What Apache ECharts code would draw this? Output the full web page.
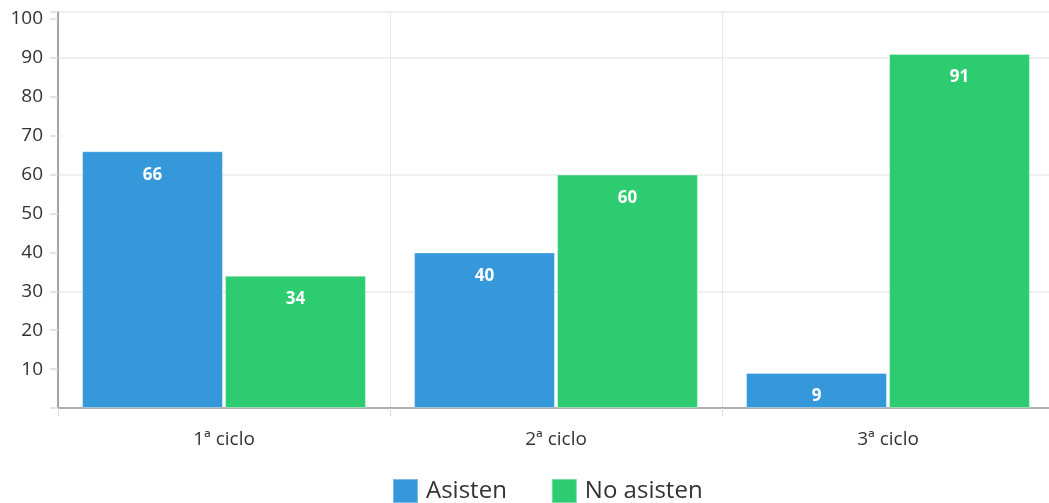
<!DOCTYPE html>
<html>
<head>
<meta charset="utf-8">
<script src="https://cdn.jsdelivr.net/npm/echarts@6/dist/echarts.min.js"></script>
<style>
html,body{margin:0;padding:0;background:#fff;overflow:hidden;}
#chart{width:1056px;height:503px;}
</style>
</head>
<body>
<div id="chart"></div>
<script>
const categories = ['1ª ciclo', '2ª ciclo', '3ª ciclo'];
const asisten = [66, 40, 9];
const noAsisten = [34, 60, 91];
const seriesNames = ['Asisten', 'No asisten'];

const chart = echarts.init(document.getElementById('chart'));
const font = '"Open Sans", "Noto Sans", sans-serif';
const labelStyle = {
  show: true,
  position: 'insideTop',
  distance: 15,
  color: '#fff',
  fontWeight: 'bold',
  fontSize: 17,
  fontFamily: font
};
chart.setOption({
  animation: false,
  textStyle: { fontFamily: font },
  grid: { left: 58, right: 2, top: 12, bottom: 95, containLabel: false },
  legend: {
    data: seriesNames,
    top: 478,
    left: 392,
    padding: 0,
    icon: 'rect',
    itemWidth: 25,
    itemHeight: 24,
    itemGap: 44,
    textStyle: { fontSize: 24, color: '#333', fontFamily: font, padding: [0, 0, 0, 3] }
  },
  xAxis: {
    type: 'category',
    data: categories,
    axisLine: { lineStyle: { color: '#999', width: 1.5 } },
    axisTick: { show: true, length: 8, lineStyle: { color: '#ddd' } },
    splitLine: { show: true, lineStyle: { color: '#e6e6e6' } },
    axisLabel: { color: '#333', fontSize: 19, margin: 22, fontFamily: font }
  },
  yAxis: [{
    type: 'value',
    min: 0,
    max: 101.8,
    interval: 10,
    axisLine: { show: true, lineStyle: { color: '#888', width: 1.5 } },
    axisTick: { show: true, length: 8, lineStyle: { color: '#ddd', width: 1.5 } },
    splitLine: { show: false },
    axisLabel: {
      color: '#333', fontSize: 19, margin: 15, fontFamily: font,
      formatter: v => (v === 0 || v > 100) ? '' : String(v)
    }
  }, {
    type: 'value',
    min: 0,
    max: 101.8,
    interval: 30,
    position: 'left',
    axisLine: { show: false },
    axisTick: { show: false },
    axisLabel: { show: false },
    splitLine: { show: true, lineStyle: { color: '#ebebeb', width: 1.5 } }
  }],
  series: [{
    name: seriesNames[0],
    type: 'bar',
    data: asisten,
    barCategoryGap: '14.5%',
    barGap: '1.5%',
    itemStyle: { color: '#3498db', borderColor: 'rgba(255,255,255,0.35)', borderWidth: 1 },
    label: labelStyle
  }, {
    name: seriesNames[1],
    type: 'bar',
    data: noAsisten,
    itemStyle: { color: '#2ecc71', borderColor: 'rgba(255,255,255,0.35)', borderWidth: 1 },
    label: labelStyle
  }]
});
</script>
</body>
</html>
